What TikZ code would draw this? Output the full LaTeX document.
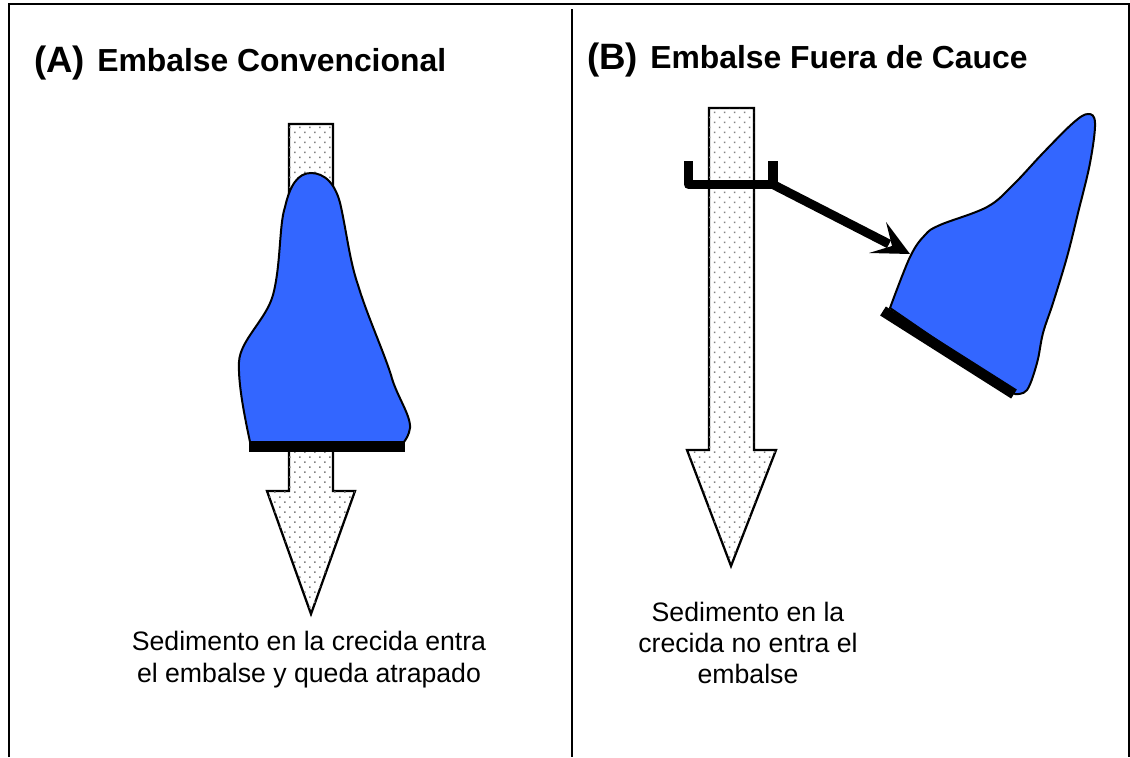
\documentclass[tikz,border=0pt]{standalone}
\usepackage{fontspec}
\setmainfont{Liberation Sans}
\usetikzlibrary{patterns.meta,arrows.meta}
\definecolor{blobblue}{HTML}{3366FF}
\tikzset{
  px/.style={x=0.75pt,y=-0.75pt},
  frameline/.style={draw=black,line width=1.2pt},
  sediment/.style={draw=black,line width=1.7pt,line join=miter,fill=white,postaction={pattern={Dots[radius=0.8pt,distance=5.3pt,angle=45]},pattern color=black!50}},
  reservoir/.style={draw=black,line width=1.5pt,fill=blobblue},
  dam/.style={draw=black,line width=8pt},
  canal/.style={draw=black,line width=7pt,line join=round},
  big/.style={font=\bfseries\fontsize{27.5}{32}\selectfont,anchor=base west,inner sep=0pt},
  title/.style={font=\bfseries\fontsize{23.9}{28}\selectfont,anchor=base west,inner sep=0pt},
  body/.style={font=\fontsize{20}{24.5}\selectfont,align=center,anchor=north,inner sep=0pt},
}
\begin{document}
\begin{tikzpicture}[px]
\useasboundingbox (0,0) rectangle (1130,757);
\fill[white] (0,0) rectangle (1130,757);
% frame
\coordinate (fa) at (9,757); \coordinate (fb) at (9,4); \coordinate (fc) at (1129,4); \coordinate (fd) at (1129,757);
\draw[frameline] (fa) -- (fb) -- (fc) -- (fd);
\coordinate (da) at (572,9); \coordinate (db) at (572,757);
\draw[frameline] (da) -- (db);
% sediment arrows
\draw[sediment] (289,124) -- (333,124) -- (333,491) -- (355,491) -- (311,614) -- (267,491) -- (289,491) -- cycle;
\draw[sediment] (709,108) -- (754,108) -- (754,450) -- (776,450) -- (731,566) -- (687,450) -- (709,450) -- cycle;
% reservoir A
\draw[reservoir] (250,442) .. controls (245,418) and (238,385) .. (239,362)
  .. controls (240,340) and (266,320) .. (273,295)
  .. controls (281,265) and (279,225) .. (285,207)
  .. controls (290,185) and (298,173) .. (311,173)
  .. controls (324,173) and (336,183) .. (341,207)
  .. controls (347,235) and (350,262) .. (358,285)
  .. controls (367,315) and (383,350) .. (391,375)
  .. controls (396,395) and (411,415) .. (410,428)
  .. controls (409,435) and (406,439) .. (404,442) -- cycle;
\coordinate (dal) at (249,446.5); \coordinate (dar) at (405,446.5);
\draw[dam] (dal) -- (dar);
% reservoir B
\draw[reservoir] plot[smooth,tension=0.6] coordinates {(890,308) (910,257) (925,235) (940,225) (987,207) (1013,185) (1043,153) (1073,123) (1088,114) (1095,123) (1090,163) (1078,213) (1067,257) (1053,303) (1043,333) (1037,363) (1027,390) (1015,394)} -- cycle;
\coordinate (dbl) at (883,311); \coordinate (dbr) at (1014,394);
\draw[dam] (dbl) -- (dbr);
% canal and intake
\coordinate (ua) at (688.5,161); \coordinate (ub) at (688.5,184.5); \coordinate (uc) at (773,184.5); \coordinate (ud) at (773,161);
\draw[canal] (ua) -- (ub) -- (uc) -- (ud);
\coordinate (tip) at (910,254);
\draw[draw=black,line width=6.8pt] (uc) -- (889,244);
\fill[black] (tip) -- (869,253) -- (892,246) -- (886,222) -- cycle;
% text
\node[big] (ta) at (34,72) {(A)};
\node[title] (tb) at (97,71) {Embalse Convencional};
\node[big] (tc) at (587,69) {(B)};
\node[title] (td) at (650,68) {Embalse Fuera de Cauce};
\node[body] (ca) at (309,630.5) {Sedimento en la crecida entra\\el embalse y queda atrapado};
\node[body,font=\fontsize{20}{23.3}\selectfont] (cb) at (748,601.5) {Sedimento en la\\crecida no entra el\\embalse};
\end{tikzpicture}
\end{document}
